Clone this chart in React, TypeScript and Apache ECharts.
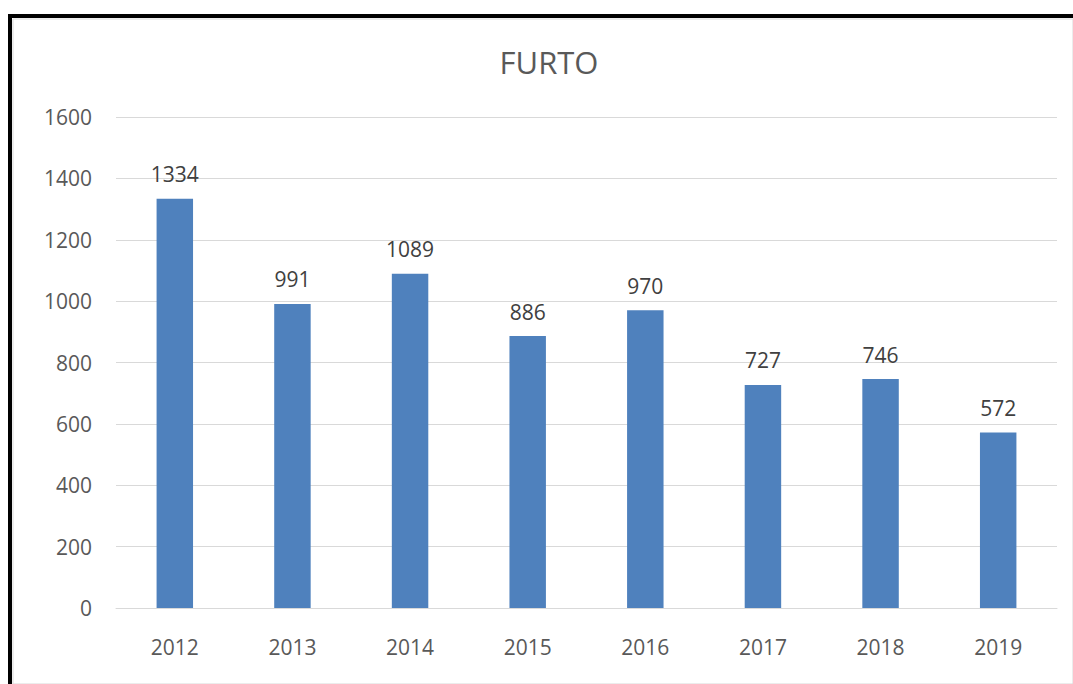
import React, { useEffect, useRef } from "react";
import * as echarts from "echarts";

const categories = ["2012", "2013", "2014", "2015", "2016", "2017", "2018", "2019"];
const values = [1334, 991, 1089, 886, 970, 727, 746, 572];
const title = "FURTO";

export default function App() {
  const ref = useRef<HTMLDivElement>(null);
  useEffect(() => {
    if (!ref.current) return;
    const chart = echarts.init(ref.current, undefined, { renderer: "svg" });
    const font = "'Open Sans', 'Liberation Sans', sans-serif";
    chart.setOption({
      animation: false,
      backgroundColor: "#ffffff",
      title: {
        text: title,
        left: 544,
        textAlign: "center",
        top: 41,
        textStyle: { fontFamily: font, fontSize: 31, fontWeight: "normal", color: "#595959" },
      },
      graphic: [
        { type: "rect", shape: { x: 13, y: 19, width: 1060, height: 665 }, style: { fill: "none", stroke: "#d9d9d9", lineWidth: 1 } },
        { type: "rect", shape: { x: 8, y: 14, width: 1065, height: 4 }, style: { fill: "#000000" } },
        { type: "rect", shape: { x: 8, y: 14, width: 4, height: 670 }, style: { fill: "#000000" } },
      ],
      grid: { left: 116, right: 16, top: 117, bottom: 76 },
      xAxis: {
        type: "category",
        data: categories,
        axisLine: { lineStyle: { color: "#d9d9d9" } },
        axisTick: { show: false },
        axisLabel: { color: "#595959", fontFamily: font, fontSize: 21, margin: 28 },
      },
      yAxis: {
        type: "value",
        min: 0,
        max: 1600,
        interval: 200,
        axisLine: { show: false },
        axisTick: { show: false },
        splitLine: { lineStyle: { color: "#d9d9d9" } },
        axisLabel: {
          color: "#595959",
          fontFamily: font,
          fontSize: 21,
          margin: 24,
          formatter: (v: number) => String(v),
        },
      },
      series: [
        {
          type: "bar",
          data: values,
          barWidth: "31%",
          itemStyle: { color: "#4f81bd" },
          label: {
            show: true,
            position: "top",
            distance: 14,
            color: "#404040",
            fontFamily: font,
            fontSize: 21,
          },
        },
      ],
    });
    return () => chart.dispose();
  }, []);
  return <div ref={ref} style={{ position: "absolute", left: 0, top: 0, width: 1073, height: 684 }} />;
}
